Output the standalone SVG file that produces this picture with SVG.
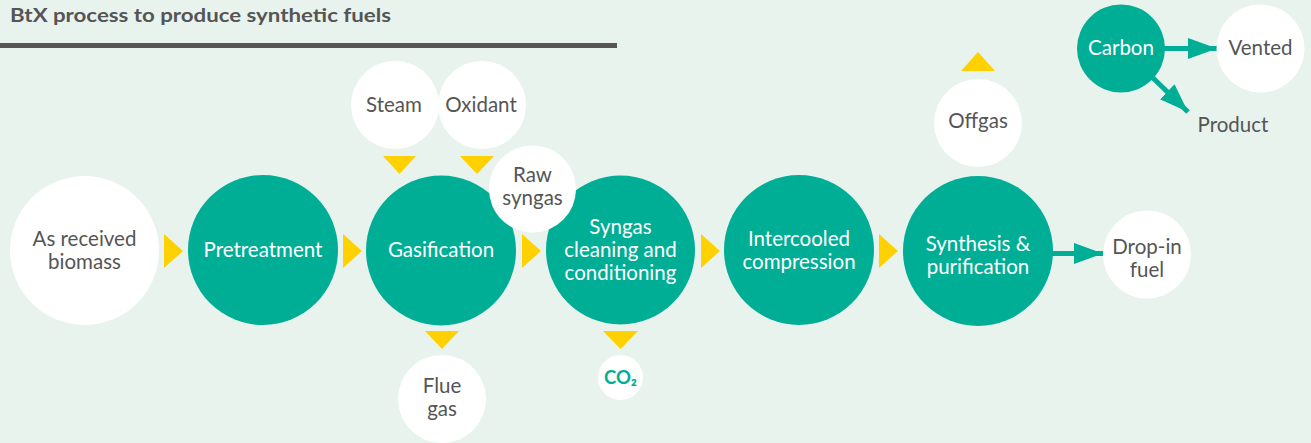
<svg xmlns="http://www.w3.org/2000/svg" width="1311" height="443" viewBox="0 0 1311 443">
<style>
.bg{fill:#e9f3ee}
.teal{fill:#00ae95}
.white{fill:#ffffff}
.tri{fill:#ffd100}
text{font-family:Lato,"Noto Sans","Liberation Sans",sans-serif;font-size:20.5px;text-anchor:middle}
.dk{fill:#555555}
.lt{fill:#ffffff}
.title{font-weight:bold;font-size:18px;text-anchor:start;fill:#555555}
.co2{font-weight:bold;font-size:18.5px;fill:#00ae95}
.arr{stroke:#00ae95;stroke-width:5;fill:none}
</style>
<defs>
<marker id="ah" markerUnits="userSpaceOnUse" markerWidth="29" markerHeight="21" refX="29" refY="10.5" orient="auto" viewBox="0 0 29 21">
<path d="M0,0 L29,10.5 L0,21 Z" fill="#00ae95"/>
</marker>
</defs>
<rect class="bg" x="0" y="0" width="1311" height="443"/>
<text class="title" x="10" y="22" textLength="381" lengthAdjust="spacingAndGlyphs">BtX process to produce synthetic fuels</text>
<rect x="0" y="43" width="617" height="5" fill="#555555"/>

<g id="connectors">
<polygon class="tri" points="164,234 183,251 164,268"/>
<polygon class="tri" points="343,234 362,251 343,268"/>
<polygon class="tri" points="522,234 541,251 522,268"/>
<polygon class="tri" points="701,234 720,251 701,268"/>
<polygon class="tri" points="879,234 898,251 879,268"/>
<polygon class="tri" points="383,156 416,156 399.5,174"/>
<polygon class="tri" points="460,156 494,156 477,174"/>
<polygon class="tri" points="425,331 459,331 442,349"/>
<polygon class="tri" points="603,331 638,331 620.5,349"/>
<polygon class="tri" points="961,71 995,71 978,52"/>
<line class="arr" x1="1052" y1="253.5" x2="1103" y2="253.5" marker-end="url(#ah)"/>
<line class="arr" x1="1164" y1="48.5" x2="1217" y2="48.5" marker-end="url(#ah)"/>
<line class="arr" x1="1152" y1="77" x2="1188" y2="112" marker-end="url(#ah)"/>
</g>

<g id="biomass"><circle class="white" cx="84.5" cy="250.5" r="74.5"/><text class="dk" x="84.5" y="246">As received</text><text class="dk" x="84.5" y="269">biomass</text></g>
<g id="pretreatment"><circle class="teal" cx="263" cy="250" r="75"/><text class="lt" x="263" y="257">Pretreatment</text></g>
<g id="gasification"><circle class="teal" cx="441" cy="250.5" r="75"/><text class="lt" x="441" y="257">Gasification</text></g>
<g id="steam"><circle class="white" cx="395" cy="105" r="44"/><text class="dk" x="394" y="111.5">Steam</text></g>
<g id="oxidant"><circle class="white" cx="482" cy="105" r="44"/><text class="dk" x="481" y="111.5">Oxidant</text></g>
<g id="flue-gas"><circle class="white" cx="442" cy="399" r="44"/><text class="dk" x="442" y="393">Flue</text><text class="dk" x="442" y="416">gas</text></g>
<g id="syngas-cleaning"><circle class="teal" cx="620.5" cy="250" r="74.5"/><text class="lt" x="620.5" y="234">Syngas</text><text class="lt" x="620.5" y="257">cleaning and</text><text class="lt" x="620.5" y="280">conditioning</text></g>
<g id="raw-syngas"><circle class="white" cx="532.5" cy="189" r="43.5"/><text class="dk" x="532.5" y="182">Raw</text><text class="dk" x="532.5" y="205">syngas</text></g>
<g id="co2"><circle class="white" cx="620.5" cy="377.5" r="22.5"/><text class="co2" x="620.5" y="384">CO₂</text></g>
<g id="compression"><circle class="teal" cx="799" cy="250" r="75"/><text class="lt" x="799" y="246">Intercooled</text><text class="lt" x="799" y="269">compression</text></g>
<g id="synthesis"><circle class="teal" cx="978" cy="251" r="75"/><text class="lt" x="978" y="251">Synthesis &amp;</text><text class="lt" x="978" y="274">purification</text></g>
<g id="offgas"><circle class="white" cx="978" cy="123" r="44"/><text class="dk" x="978" y="128">Offgas</text></g>
<g id="drop-in-fuel"><circle class="white" cx="1147" cy="254.5" r="44"/><text class="dk" x="1147" y="254">Drop-in</text><text class="dk" x="1147" y="277">fuel</text></g>
<g id="carbon"><circle class="teal" cx="1121" cy="48.5" r="44"/><text class="lt" x="1121" y="55">Carbon</text></g>
<g id="vented"><circle class="white" cx="1260.5" cy="48.5" r="44"/><text class="dk" x="1260.5" y="55">Vented</text></g>
<g id="product"><text class="dk" x="1233" y="132">Product</text></g>
</svg>
